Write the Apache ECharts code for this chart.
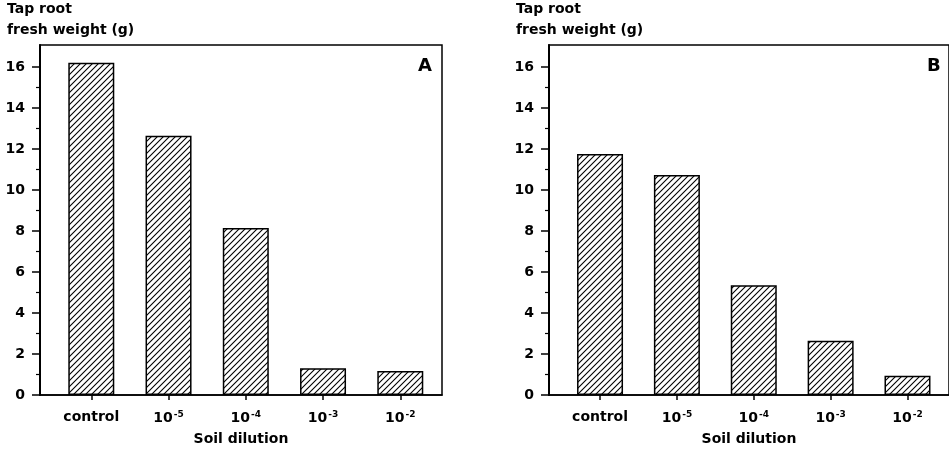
<!DOCTYPE html>
<html><head><meta charset="utf-8">
<script src="https://cdn.jsdelivr.net/npm/echarts@6/dist/echarts.min.js"></script>
<style>html,body{margin:0;padding:0;background:#fff}#c{width:949px;height:451px}</style>
</head><body><div id="c"></div>
<script>
const categories = ['control', '10^-5', '10^-4', '10^-3', '10^-2'];
const valuesA = [16.2, 12.65, 8.15, 1.3, 1.17];
const valuesB = [11.75, 10.73, 5.35, 2.65, 0.94];
const yMajorTicks = [0, 2, 4, 6, 8, 10, 12, 14, 16];
const yMinorTicks = [1, 3, 5, 7, 9, 11, 13, 15];
const yAxisTitle = ['Tap root', 'fresh weight (g)'];
const xAxisTitle = 'Soil dilution';
const panelLetters = ['A', 'B'];

const FONT = '"DejaVu Sans", sans-serif';

function hatch() {
  const s = 6;
  const c = document.createElement('canvas');
  c.width = s; c.height = s;
  const g = c.getContext('2d');
  g.fillStyle = '#fff'; g.fillRect(0, 0, s, s);
  g.strokeStyle = '#000'; g.lineWidth = 1.1;
  g.beginPath();
  g.moveTo(-1, s + 1); g.lineTo(s + 1, -1);
  g.moveTo(-1, 1); g.lineTo(1, -1);
  g.moveTo(s - 1, s + 1); g.lineTo(s + 1, s - 1);
  g.stroke();
  return c;
}
const pattern = { image: hatch(), repeat: 'repeat' };

const catIdx = categories.map((c, i) => i);
function catLabel(v) {
  const c = categories[Math.round(v)];
  if (c === undefined) return '';
  if (c.indexOf('^') >= 0) {
    const p = c.split('^');
    return '{b|' + p[0] + '}{s|' + p[1] + '}';
  }
  return '{b|' + c + '}';
}

const panels = [valuesA, valuesB];
const lefts = [40, 549];
const grids = [], xAxes = [], yAxes = [], series = [], graphics = [];
panels.forEach((vals, p) => {
  grids.push({ left: lefts[p], top: 45, width: 402, height: 350, show: true,
    borderColor: '#000', borderWidth: 1.5, backgroundColor: 'transparent' });
  xAxes.push({
    type: 'value', gridIndex: p, min: -0.664, max: 4.54,
    axisLine: { show: true, onZero: false, lineStyle: { color: '#000', width: 1.5 } },
    axisTick: { show: true, customValues: catIdx, length: 5, lineStyle: { color: '#000', width: 1.5 } },
    axisLabel: { customValues: catIdx, formatter: catLabel, margin: 15,
      rich: {
        b: { fontFamily: FONT, fontWeight: 'bold', fontSize: 14, color: '#000' },
        s: { fontFamily: FONT, fontWeight: 'bold', fontSize: 9, color: '#000', padding: [0, 0, 8, 1] }
      } },
    splitLine: { show: false },
    name: xAxisTitle, nameLocation: 'middle', nameGap: 37,
    nameTextStyle: { fontFamily: FONT, fontWeight: 'bold', fontSize: 14, color: '#000' }
  });
  yAxes.push({
    type: 'value', gridIndex: p, min: 0, max: 17.07, position: 'left',
    axisLine: { show: true, onZero: false, lineStyle: { color: '#000', width: 2 } },
    axisTick: { show: true, customValues: yMajorTicks, length: 8, lineStyle: { color: '#000', width: 1.5 } },
    axisLabel: { customValues: yMajorTicks, margin: 15, fontFamily: FONT, fontWeight: 'bold', fontSize: 14, color: '#000' },
    splitLine: { show: false }
  });
  yAxes.push({
    type: 'value', gridIndex: p, min: 0, max: 17.07, position: 'left', offset: 0,
    axisLine: { show: false, onZero: false },
    axisTick: { show: true, customValues: yMinorTicks, length: 4, lineStyle: { color: '#000', width: 1.2 } },
    axisLabel: { show: false },
    splitLine: { show: false }
  });
  series.push({
    type: 'bar', xAxisIndex: p, yAxisIndex: p * 2,
    data: vals.map((v, i) => [i, v]),
    barWidth: 46,
    itemStyle: { color: pattern, borderColor: '#000', borderWidth: 1.5 },
    silent: true
  });
  graphics.push({ type: 'text', left: lefts[p] - 33, top: 2,
    style: { text: yAxisTitle[0], font: 'bold 14px ' + FONT, fill: '#000' } });
  graphics.push({ type: 'text', left: lefts[p] - 33, top: 23,
    style: { text: yAxisTitle[1], font: 'bold 14px ' + FONT, fill: '#000' } });
  graphics.push({ type: 'text', left: lefts[p] + 378, top: 57,
    style: { text: panelLetters[p], font: 'bold 18px ' + FONT, fill: '#000' } });
});

const chart = echarts.init(document.getElementById('c'), null, { renderer: 'canvas' });
chart.setOption({
  animation: false,
  backgroundColor: '#fff',
  grid: grids, xAxis: xAxes, yAxis: yAxes, series: series, graphic: graphics
});
</script></body></html>
